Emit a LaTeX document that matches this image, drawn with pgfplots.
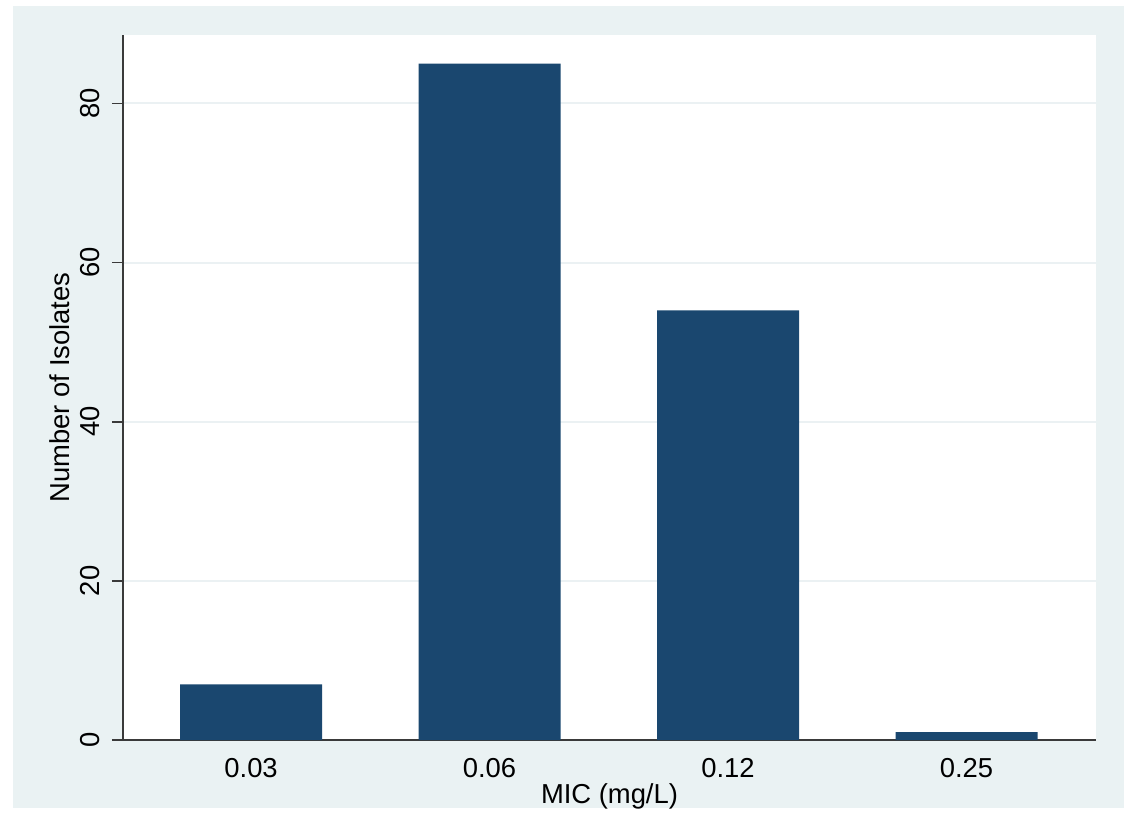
\documentclass[border=0pt]{standalone}
\usepackage{pgfplots}
\pgfplotsset{compat=1.18}
\usepackage{fontspec}
\setmainfont{Liberation Sans}
\definecolor{stbg}{HTML}{EAF2F3}
\definecolor{stnavy}{HTML}{1A476F}
\definecolor{stgrid}{HTML}{EBF1F3}
\definecolor{staxis}{HTML}{3A3A3A}
\begin{document}
\begin{tikzpicture}
% page and graph region
\fill[white] (0,0) rectangle (563pt,404.5pt);
\fill[stbg] (6.5pt,0.5pt) rectangle (562pt,401.5pt);
\begin{axis}[
  at={(61.5pt,34.5pt)}, anchor=south west,
  scale only axis, width=486.5pt, height=352.5pt,
  axis background/.style={fill=white},
  axis lines*=left,
  axis line style={staxis, line width=1pt},
  xmin=-0.537, xmax=3.543, ymin=0, ymax=88.6,
  xtick={0,1,2,3}, xticklabels={0.03,0.06,0.12,0.25},
  ytick={0,20,40,60,80},
  ymajorgrids, major grid style={stgrid, line width=1pt},
  tick align=outside,
  ytick style={staxis, line width=0.8pt},
  major tick length=5.5pt,
  xtick style={draw=none},
  /pgf/number format/assume math mode=true,
  tick label style={font=\fontsize{13.7}{16}\selectfont},
  label style={font=\fontsize{13.7}{16}\selectfont},
  yticklabel style={xshift=-6pt, rotate=90, anchor=base},
  xticklabel style={anchor=base, yshift=-13pt},
  xlabel={MIC (mg/L)}, ylabel={Number of Isolates},
  xlabel style={at={(axis description cs:0.5,-0.0894)}, anchor=base},
  ylabel style={at={(axis description cs:-0.0545,0.5)}, anchor=base},
  ybar, bar width=71pt,
]
\addplot[fill=stnavy, draw=none] coordinates {(0,7) (1,85) (2,54) (3,1)};
\end{axis}
\end{tikzpicture}
\end{document}
